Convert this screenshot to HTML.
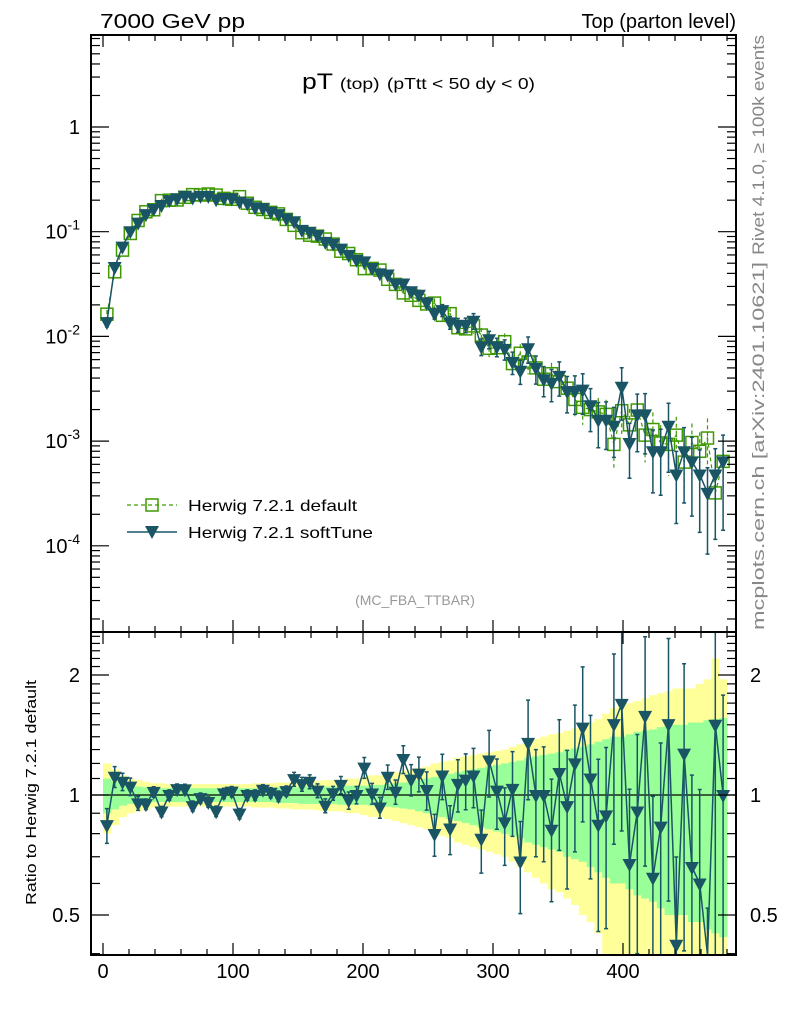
<!DOCTYPE html>
<html><head><meta charset="utf-8"><style>
html,body{margin:0;padding:0;background:#fff;}
svg{display:block;font-family:"Liberation Sans",Arial,sans-serif;}
</style></head><body>
<svg id="chart" width="786" height="1024" viewBox="0 0 786 1024" xmlns="http://www.w3.org/2000/svg">
<g id="bands"></g>
<g id="marks"></g>
<g id="axes"></g>
<text x="100" y="28" font-size="20" textLength="145" lengthAdjust="spacingAndGlyphs">7000 GeV pp</text>
<text x="736" y="28" font-size="20" text-anchor="end">Top (parton level)</text>
<text x="302" y="89" font-size="22" textLength="233" lengthAdjust="spacingAndGlyphs">pT <tspan font-size="16">(top)</tspan> <tspan font-size="16">(pTtt &lt; 50 dy &lt; 0)</tspan></text>
<text x="415" y="605" font-size="14" fill="#999" text-anchor="middle">(MC_FBA_TTBAR)</text>
<text transform="translate(764,255) rotate(-90)" font-size="17" fill="#888" textLength="220" lengthAdjust="spacingAndGlyphs">Rivet 4.1.0, ≥ 100k events</text>
<text transform="translate(764,630) rotate(-90)" font-size="17" fill="#888" textLength="368" lengthAdjust="spacingAndGlyphs">mcplots.cern.ch [arXiv:2401.10621]</text>
<text transform="translate(36,905) rotate(-90)" font-size="15" textLength="225" lengthAdjust="spacingAndGlyphs">Ratio to Herwig 7.2.1 default</text>
<g>
<g>
<line x1="127" y1="505" x2="177" y2="505" stroke="#3f9a00" stroke-width="1.3" stroke-dasharray="4,3"/>
<rect x="146" y="499" width="12" height="12" fill="none" stroke="#3f9a00" stroke-width="1.5"/>
<text x="188" y="511" font-size="16" textLength="169" lengthAdjust="spacingAndGlyphs">Herwig 7.2.1 default</text></g>
<g>
<line x1="127" y1="532" x2="177" y2="532" stroke="#1a5566" stroke-width="1.5"/>
<path d="M145,526 L159,526 L152,539 Z" fill="#1a5566"/>
<text x="188" y="538" font-size="16" textLength="185" lengthAdjust="spacingAndGlyphs">Herwig 7.2.1 softTune</text></g>
</g>
</svg>
<script>
const xCenters = [3,9,15,21,27,33,39,45,51,57,63,69,75,81,87,93,99,105,111,117,123,129,135,141,147,153,159,165,171,177,183,189,195,201,207,213,219,225,231,237,243,249,255,261,267,273,279,285,291,297,303,309,315,321,327,333,339,345,351,357,363,369,375,381,387,393,399,405,411,417,423,429,435,441,447,453,459,465,471,477];
const defaultVals = [0.0163,0.0414,0.0667,0.0962,0.128,0.155,0.162,0.198,0.2,0.201,0.213,0.226,0.224,0.229,0.224,0.208,0.204,0.216,0.187,0.171,0.163,0.153,0.148,0.131,0.115,0.0977,0.0926,0.0907,0.0851,0.0762,0.0651,0.0619,0.054,0.0444,0.0446,0.043,0.0351,0.0314,0.026,0.0247,0.0221,0.0204,0.0208,0.0159,0.0165,0.0121,0.0118,0.0126,0.0103,0.0077,0.0078,0.0089,0.0055,0.0069,0.0057,0.005,0.0039,0.0044,0.0037,0.0032,0.0025,0.0021,0.002,0.0019,0.0018,0.00093,0.00195,0.00143,0.00198,0.00114,0.00129,0.00096,0.00093,0.00114,0.00063,0.00097,0.0008,0.00107,0.00032,0.00064];
const softVals = [0.0137,0.046,0.072,0.101,0.122,0.147,0.165,0.18,0.2,0.208,0.22,0.212,0.22,0.22,0.204,0.21,0.208,0.194,0.187,0.171,0.168,0.155,0.147,0.134,0.126,0.104,0.1,0.093,0.08,0.077,0.069,0.06,0.054,0.052,0.045,0.04,0.039,0.032,0.032,0.027,0.025,0.021,0.0166,0.0178,0.0136,0.0129,0.0129,0.0141,0.008,0.0094,0.008,0.0076,0.0057,0.0047,0.0077,0.005,0.0039,0.0036,0.0042,0.003,0.003,0.0031,0.0022,0.0016,0.0016,0.0014,0.0033,0.00096,0.0018,0.0018,0.0008,0.0008,0.0014,0.00048,0.0008,0.00064,0.00048,0.00032,0.00048,0.00064];
const greenErr = [0.10,0.08,0.06,0.05,0.05,0.045,0.04,0.04,0.04,0.04,0.04,0.04,0.04,0.04,0.04,0.04,0.04,0.04,0.04,0.04,0.04,0.04,0.045,0.045,0.045,0.05,0.05,0.05,0.05,0.05,0.055,0.055,0.055,0.055,0.06,0.06,0.065,0.07,0.075,0.08,0.09,0.10,0.11,0.12,0.13,0.14,0.15,0.16,0.17,0.18,0.19,0.20,0.21,0.22,0.24,0.25,0.26,0.27,0.28,0.30,0.31,0.32,0.34,0.36,0.38,0.40,0.40,0.42,0.44,0.45,0.46,0.48,0.50,0.50,0.50,0.52,0.52,0.54,0.55,0.56];
const yellowErr = [0.20,0.16,0.12,0.1,0.09,0.08,0.07,0.07,0.065,0.065,0.065,0.065,0.065,0.065,0.065,0.065,0.065,0.065,0.065,0.07,0.07,0.07,0.075,0.075,0.08,0.08,0.08,0.085,0.09,0.09,0.09,0.10,0.10,0.11,0.12,0.12,0.13,0.14,0.15,0.16,0.17,0.18,0.20,0.21,0.22,0.24,0.25,0.26,0.27,0.28,0.29,0.30,0.32,0.34,0.36,0.38,0.40,0.42,0.43,0.45,0.47,0.50,0.52,0.55,0.60,0.65,0.70,0.70,0.72,0.75,0.78,0.80,0.82,0.85,0.85,0.85,0.90,0.95,1.2,0.95];
const softErr = [0.10,0.06,0.05,0.05,0.04,0.03,0.03,0.03,0.03,0.03,0.03,0.03,0.03,0.03,0.03,0.03,0.03,0.03,0.03,0.03,0.03,0.03,0.03,0.03,0.04,0.04,0.04,0.04,0.04,0.04,0.05,0.05,0.05,0.06,0.06,0.06,0.07,0.07,0.08,0.09,0.10,0.11,0.12,0.13,0.14,0.15,0.16,0.17,0.18,0.19,0.20,0.22,0.24,0.26,0.28,0.30,0.32,0.34,0.36,0.38,0.40,0.42,0.44,0.46,0.48,0.50,0.52,0.54,0.56,0.58,0.60,0.62,0.64,0.66,0.68,0.70,0.72,0.74,0.76,0.78];
const binHalf = 3;
const xTicks = [0,100,200,300,400];
const mainTickLabels = [["1",0],["10","-1"],["10","-2"],["10","-3"],["10","-4"]];
const ratioTickLabels = [0.5,1,2];

const NS="http://www.w3.org/2000/svg";
const L=91,R=736,T=35,MB=632,RB=955;
const X=v=>103+1.3*v;
const YM=v=>127-104.7*Math.log10(v);
const YR=v=>795-398.7*Math.log10(v);
const clampM=y=>Math.max(T,Math.min(MB,y));
const clampR=y=>Math.max(MB,Math.min(RB,y));
function mk(tag,attrs,parent){const e=document.createElementNS(NS,tag);for(const k in attrs)e.setAttribute(k,attrs[k]);parent.appendChild(e);return e;}
const bands=document.getElementById('bands'),marks=document.getElementById('marks'),axes=document.getElementById('axes');

xCenters.forEach((x,i)=>{
  const x0=X(x-binHalf),x1=X(x+binHalf);
  const yt=clampR(YR(1+yellowErr[i])),yb=clampR(YR(Math.max(0.01,1-yellowErr[i])));
  const r=mk('rect',{x:x0,y:yt,width:x1-x0+0.5,height:yb-yt,fill:'#ffff99'},bands);
  
  
});
xCenters.forEach((x,i)=>{
  const x0=X(x-binHalf),x1=X(x+binHalf);
  const yt=clampR(YR(1+greenErr[i])),yb=clampR(YR(Math.max(0.01,1-greenErr[i])));
  const r=mk('rect',{x:x0,y:yt,width:x1-x0+0.5,height:yb-yt,fill:'#99ff99'},bands);
  
  
});
const one=mk('line',{x1:L,x2:R,y1:YR(1),y2:YR(1),stroke:'#000','stroke-width':1.3},bands);



let pd='';
xCenters.forEach((x,i)=>{pd+=(i?'L':'M')+X(x)+','+YM(defaultVals[i]);});
const dl=mk('path',{d:pd,fill:'none',stroke:'#3f9a00','stroke-width':1.2,'stroke-dasharray':'4,3'},marks);


xCenters.forEach((x,i)=>{
  const v=defaultVals[i],e=greenErr[i];
  const y1=clampM(YM(v*(1+e))),y2=clampM(YM(Math.max(1e-6,v*(1-e))));
  const eb=mk('line',{x1:X(x),x2:X(x),y1:y1,y2:y2,stroke:'#3f9a00','stroke-width':1.2,'stroke-dasharray':'4,3'},marks);
  
  
  const sq=mk('rect',{x:X(x)-6,y:YM(v)-6,width:12,height:12,fill:'none',stroke:'#3f9a00','stroke-width':1.5},marks);
  
  
});
let ps='';
xCenters.forEach((x,i)=>{ps+=(i?'L':'M')+X(x)+','+YM(softVals[i]);});
const sl=mk('path',{d:ps,fill:'none',stroke:'#1a5566','stroke-width':1.5},marks);


xCenters.forEach((x,i)=>{
  const v=softVals[i],e=softErr[i];
  const y1=clampM(YM(v*(1+e))),y2=clampM(YM(Math.max(1e-6,v*(1-e))));
  if(e>0.08){
    const eb=mk('path',{d:`M${X(x)},${y1}L${X(x)},${y2}M${X(x)-2},${y1}L${X(x)+2},${y1}M${X(x)-2},${y2}L${X(x)+2},${y2}`,stroke:'#1a5566','stroke-width':1.5,fill:'none'},marks);
    
    
  }
  const cx=X(x),cy=YM(v);
  const t=mk('path',{d:`M${cx-7},${cy-5}L${cx+7},${cy-5}L${cx},${cy+8}Z`,fill:'#1a5566'},marks);
  
  
});
let pr='';
xCenters.forEach((x,i)=>{pr+=(i?'L':'M')+X(x)+','+clampR(YR(softVals[i]/defaultVals[i]));});
const rl=mk('path',{d:pr,fill:'none',stroke:'#1a5566','stroke-width':1.5},marks);


xCenters.forEach((x,i)=>{
  const r=softVals[i]/defaultVals[i],e=softErr[i];
  const y1=clampR(YR(r*(1+e))),y2=clampR(YR(Math.max(0.01,r*(1-e))));
  const eb=mk('path',{d:`M${X(x)},${y1}L${X(x)},${y2}M${X(x)-2},${y1}L${X(x)+2},${y1}M${X(x)-2},${y2}L${X(x)+2},${y2}`,stroke:'#1a5566','stroke-width':1.5,fill:'none'},marks);
  
  
  const cy=YR(r);
  if(cy>MB&&cy<RB){const cx=X(x);
    const t=mk('path',{d:`M${cx-7},${cy-5}L${cx+7},${cy-5}L${cx},${cy+8}Z`,fill:'#1a5566'},marks);
    
    }
});

[[T,MB],[MB,RB]].forEach(([a,b],k)=>{
  const f=mk('rect',{x:L,y:a,width:R-L,height:b-a,fill:'none',stroke:'#000','stroke-width':2},axes);
  
  
});
for(let v=0;v<=480;v+=20){
  const big=v%100===0, len=big?12:6;
  [[T,1],[MB,1],[MB,-1],[RB,-1]].forEach(([y,d])=>{
    mk('line',{x1:X(v),x2:X(v),y1:y,y2:y+d*len,stroke:'#000','stroke-width':1.2},axes);
  });
}
xTicks.forEach(v=>{
  const t=mk('text',{x:X(v),y:978,'font-size':20,'text-anchor':'middle'},axes);
  t.textContent=v;
  
  
});
for(let d=-5;d<=0;d++){for(let m=1;m<10;m++){
  const y=YM(m*Math.pow(10,d)); if(y<T||y>MB) continue;
  const len=m===1?18:9;
  mk('line',{x1:L,x2:L+len,y1:y,y2:y,stroke:'#000','stroke-width':1.2},axes);
  mk('line',{x1:R,x2:R-len,y1:y,y2:y,stroke:'#000','stroke-width':1.2},axes);
}}
mainTickLabels.forEach((lab,k)=>{
  const y=YM(Math.pow(10,-k));
  const t=mk('text',{x:80,y:y+7,'font-size':20,'text-anchor':'end'},axes);
  
  
  if(k===0){t.textContent='1';}
  else{t.textContent=lab[0];const s=mk('tspan',{dy:-9,'font-size':14},t);s.textContent=lab[1];}
});
for(let i=4;i<=25;i++){
  const v=i/10,y=YR(v); if(y<MB||y>RB) continue;
  const big=(i===5||i===10||i===20),len=big?18:9;
  mk('line',{x1:L,x2:L+len,y1:y,y2:y,stroke:'#000','stroke-width':1.2},axes);
  mk('line',{x1:R,x2:R-len,y1:y,y2:y,stroke:'#000','stroke-width':1.2},axes);
}
ratioTickLabels.forEach(v=>{
  const y=YR(v);
  const t=mk('text',{x:80,y:y+7,'font-size':20,'text-anchor':'end'},axes);
  t.textContent=v;
  
  
  const t2=mk('text',{x:750,y:y+7,'font-size':20},axes);
  t2.textContent=v;
  
  
});
</script>
</body></html>
